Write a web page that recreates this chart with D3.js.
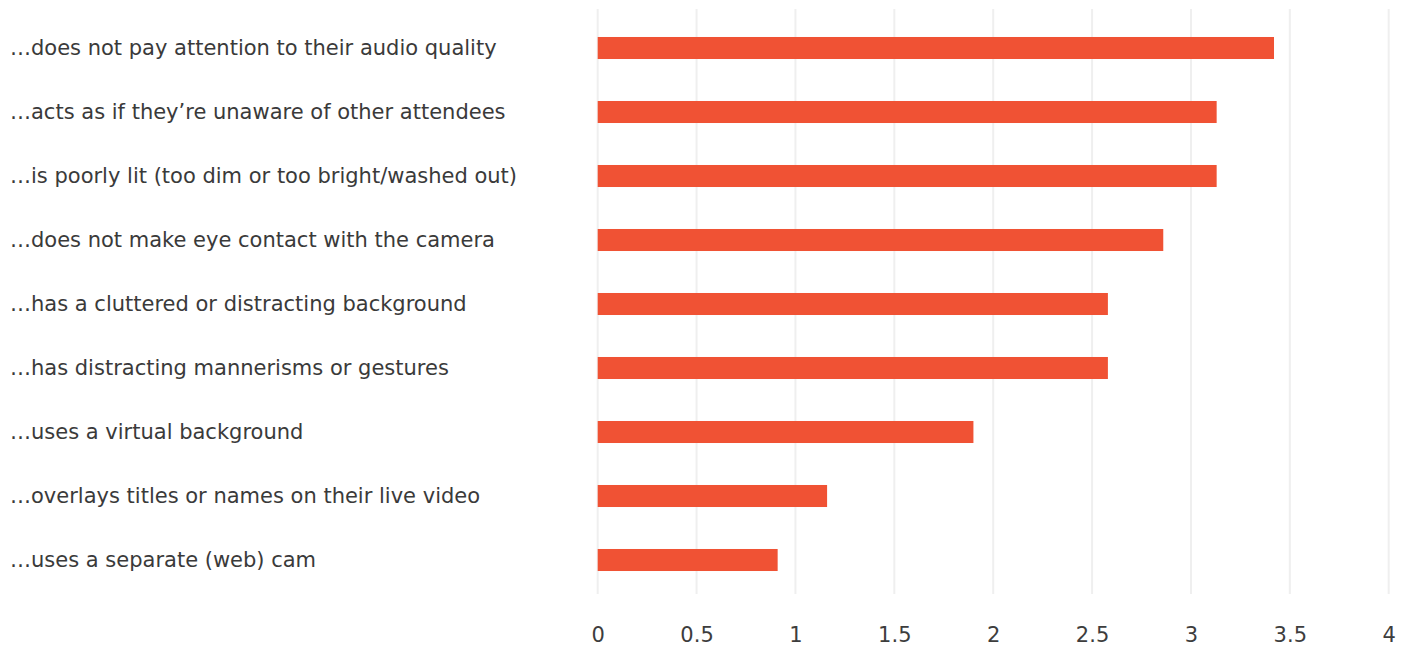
<!DOCTYPE html>
<html>
<head>
<meta charset="utf-8">
<script src="https://cdn.jsdelivr.net/npm/d3@7"></script>
<style>
  body { margin: 0; background: #fff; }
  text { font-family: "DejaVu Sans", sans-serif; }
</style>
</head>
<body>
<div class="chart"></div>
<script>
const width = 1408;
const height = 648;

// categories, top to bottom
const behaviours = [
    "…does not pay attention to their audio quality",
    "…acts as if they’re unaware of other attendees",
    "…is poorly lit (too dim or too bright/washed out)",
    "…does not make eye contact with the camera",
    "…has a cluttered or distracting background",
    "…has distracting mannerisms or gestures",
    "…uses a virtual background",
    "…overlays titles or names on their live video",
    "…uses a separate (web) cam"
];
const scores = [3.42, 3.13, 3.13, 2.86, 2.58, 2.58, 1.90, 1.16, 0.91];
const xTicks = [0, 0.5, 1, 1.5, 2, 2.5, 3, 3.5, 4];

const svg = d3.select(".chart").append("svg")
    .attr("width", width)
    .attr("height", height);

// Scales
const xScale = d3.scaleLinear()
    .domain([0, 4])
    .range([597.7, 1388.7]);

const yScale = d3.scaleBand()
    .domain(behaviours)
    .range([16, 592])
    .paddingInner(0.656)
    .paddingOuter(0.328);

// Gridlines
svg.append("g")
    .selectAll("line")
    .data(xTicks)
    .enter()
    .append("line")
    .attr("x1", d => xScale(d))
    .attr("x2", d => xScale(d))
    .attr("y1", 9)
    .attr("y2", 594)
    .attr("stroke", "#efefef")
    .attr("stroke-width", 2);

// Bottom axis, labels only
const xAxis = d3.axisBottom(xScale)
    .tickValues(xTicks)
    .tickSize(0)
    .tickPadding(0)
    .tickFormat(d3.format("~g"));

const gx = svg.append("g")
    .attr("transform", "translate(0, 627)")
    .call(xAxis);
gx.select(".domain").remove();
gx.selectAll("text")
    .attr("fill", "#3d3d3d")
    .style("font-size", "21px")
    .style("font-family", "'DejaVu Sans', sans-serif");

// Category labels
svg.append("g")
    .selectAll("text")
    .data(behaviours)
    .enter()
    .append("text")
    .attr("x", 10)
    .attr("y", d => yScale(d) + yScale.bandwidth() / 2)
    .attr("dy", "0.35em")
    .attr("fill", "#3a3a3a")
    .style("font-size", "21px")
    .text(d => d);

// Bars
svg.append("g")
    .selectAll("rect")
    .data(scores)
    .enter()
    .append("rect")
    .attr("x", xScale(0))
    .attr("y", (d, i) => yScale(behaviours[i]))
    .attr("width", d => xScale(d) - xScale(0))
    .attr("height", yScale.bandwidth())
    .attr("fill", "#f05234");
</script>
</body>
</html>
